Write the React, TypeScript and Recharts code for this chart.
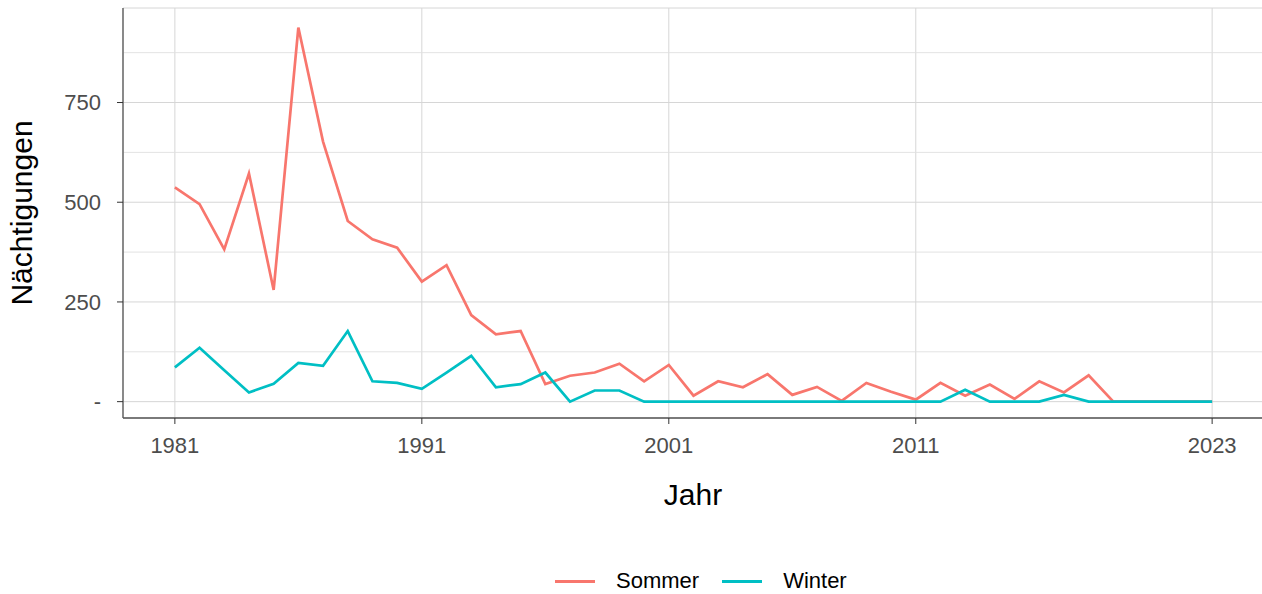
import React from "react"
import { LineChart, Line, XAxis, YAxis, CartesianGrid, ReferenceLine } from "recharts"

// Jahre 1981 - 2023
const years = [
  1981, 1982, 1983, 1984, 1985, 1986, 1987, 1988, 1989, 1990,
  1991, 1992, 1993, 1994, 1995, 1996, 1997, 1998, 1999, 2000,
  2001, 2002, 2003, 2004, 2005, 2006, 2007, 2008, 2009, 2010,
  2011, 2012, 2013, 2014, 2015, 2016, 2017, 2018, 2019, 2020,
  2021, 2022, 2023,
]

const sommer = [
  537, 495, 382, 572, 280, 938, 652, 453, 407, 386,
  301, 342, 217, 169, 177, 44, 65, 73, 95, 51,
  92, 15, 51, 36, 69, 17, 37, 2, 47, 25,
  5, 47, 15, 43, 7, 51, 23, 66, 0, 0,
  0, 0, 0,
]

const winter = [
  86, 135, 79, 23, 45, 97, 90, 177, 51, 47,
  32, 73, 115, 36, 44, 73, 0, 28, 28, 0,
  0, 0, 0, 0, 0, 0, 0, 0, 0, 0,
  0, 0, 30, 0, 0, 0, 17, 0, 0, 0,
  0, 0, 0,
]

const xTicks = [1981, 1991, 2001, 2011, 2023]
const yTicks = [0, 250, 500, 750]
const yMinor = [125, 375, 625, 875]

const RED = "#F8766D"
const TEAL = "#00BFC4"
const FONT = "'Liberation Sans', Arial, sans-serif"

const data = years.map((year, i) => ({ year, Sommer: sommer[i], Winter: winter[i] }))

export default function App() {
  return (
    <div style={{ position: "absolute", left: 0, top: 0, width: 1262, height: 594, overflow: "hidden", background: "#fff", fontFamily: FONT }}>
      <LineChart width={1266} height={594} data={data} margin={{ top: 8, right: 2, left: 0, bottom: 0 }}>
        <CartesianGrid stroke="#d6d6d6" strokeWidth={1} />
        {yMinor.map((v) => (
          <ReferenceLine key={v} y={v} stroke="#e0e0e0" strokeWidth={0.9} />
        ))}
        <XAxis
          dataKey="year"
          type="number"
          domain={[1978.9, 2025.1]}
          allowDataOverflow
          ticks={xTicks}
          height={176}
          tickSize={6}
          tickMargin={13}
          tickLine={{ stroke: "#333" }}
          axisLine={{ stroke: "#555", strokeWidth: 1.3 }}
          tick={{ fontSize: 22, fill: "#4d4d4d", fontFamily: FONT }}
        />
        <XAxis
          xAxisId="top"
          orientation="top"
          dataKey="year"
          type="number"
          domain={[1978.9, 2025.1]}
          height={0}
          tick={false}
          tickLine={false}
          axisLine={{ stroke: "#555", strokeWidth: 1.3 }}
        />
        <YAxis
          type="number"
          domain={[-41, 987]}
          allowDataOverflow
          ticks={yTicks}
          width={123}
          tickSize={6}
          tickMargin={16}
          tickLine={{ stroke: "#333" }}
          axisLine={{ stroke: "#555", strokeWidth: 1.3 }}
          tickFormatter={(v: number) => (v === 0 ? "-" : String(v))}
          tick={{ fontSize: 22, fill: "#4d4d4d", fontFamily: FONT }}
        />
        <Line type="linear" dataKey="Sommer" stroke={RED} strokeWidth={2.7} dot={false} isAnimationActive={false} />
        <Line type="linear" dataKey="Winter" stroke={TEAL} strokeWidth={2.7} dot={false} isAnimationActive={false} />
      </LineChart>

      {/* Achsentitel */}
      <svg width={1262} height={594} style={{ position: "absolute", left: 0, top: 0, pointerEvents: "none" }}>
        <text x={693} y={505} textAnchor="middle" fontSize={30} fill="#000" fontFamily={FONT}>Jahr</text>
        <text
          x={0}
          y={0}
          transform="translate(32,213) rotate(-90)"
          textAnchor="middle"
          fontSize={30}
          fill="#000"
          fontFamily={FONT}
        >
          Nächtigungen
        </text>
      </svg>

      {/* Legende */}
      <div style={{ position: "absolute", top: 570, left: 555, display: "flex", alignItems: "center", fontSize: 22, lineHeight: "22px", color: "#000" }}>
        <span style={{ width: 40, height: 3, background: RED, display: "inline-block" }} />
        <span style={{ marginLeft: 21 }}>Sommer</span>
        <span style={{ width: 40, height: 3, background: TEAL, display: "inline-block", marginLeft: 23 }} />
        <span style={{ marginLeft: 21 }}>Winter</span>
      </div>
    </div>
  )
}
